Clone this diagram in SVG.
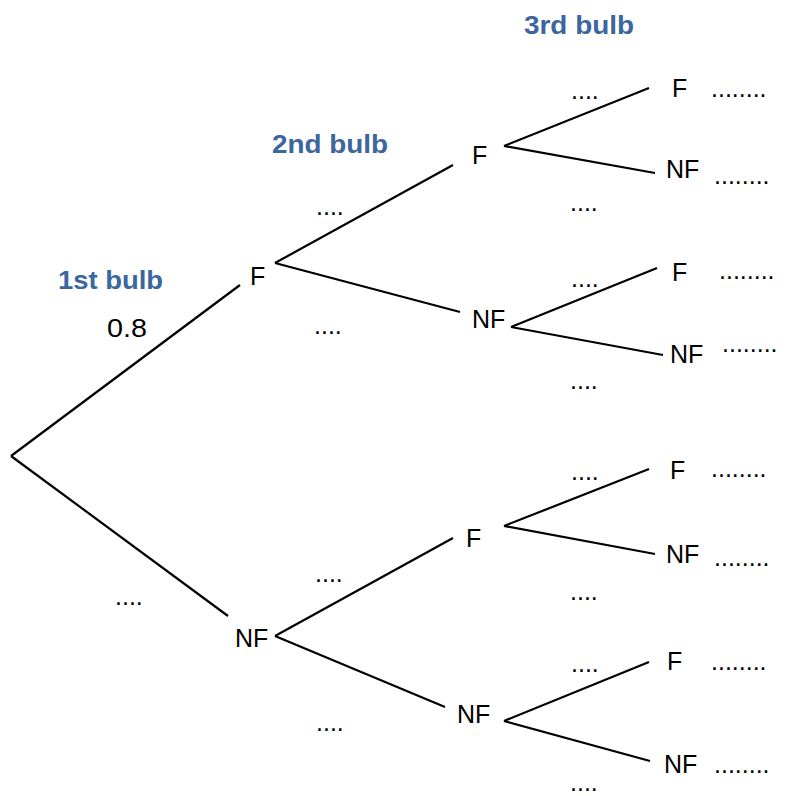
<svg xmlns="http://www.w3.org/2000/svg" width="788" height="796" viewBox="0 0 788 796">
<style>
.t{font-family:"Liberation Sans",Arial,sans-serif;font-size:25px;fill:#000}
.h{font-family:"Liberation Sans",Arial,sans-serif;font-size:26px;font-weight:bold;fill:#3b679e}
.c line{stroke:#000;stroke-width:2.2;stroke-linecap:butt}
</style>
<rect width="788" height="796" fill="#fff"/>
<g id="headers">
<text class="h" x="58" y="289" textLength="105" lengthAdjust="spacingAndGlyphs">1st bulb</text>
<text class="h" x="272" y="153" textLength="116" lengthAdjust="spacingAndGlyphs">2nd bulb</text>
<text class="h" x="524" y="34" textLength="110" lengthAdjust="spacingAndGlyphs">3rd bulb</text>
</g>
<g id="connectors" class="c">
<line x1="11" y1="456" x2="240" y2="285"/>
<line x1="11" y1="456" x2="228" y2="616"/>
<line x1="275" y1="263" x2="453" y2="165"/>
<line x1="275" y1="263" x2="460" y2="312"/>
<line x1="275" y1="636" x2="453" y2="538"/>
<line x1="275" y1="636" x2="445" y2="707"/>
<line x1="504" y1="146" x2="649" y2="88"/>
<line x1="504" y1="146" x2="655" y2="173"/>
<line x1="511" y1="327" x2="657" y2="268"/>
<line x1="511" y1="327" x2="663" y2="355"/>
<line x1="504" y1="526" x2="649" y2="469"/>
<line x1="504" y1="526" x2="655" y2="554"/>
<line x1="504" y1="721" x2="649" y2="662"/>
<line x1="504" y1="721" x2="650" y2="761"/>
</g>
<g id="prob-labels">
<text class="t" x="107" y="337" textLength="40" lengthAdjust="spacingAndGlyphs">0.8</text>
<text class="t" x="115" y="605">....</text>
<text class="t" x="316" y="215">....</text>
<text class="t" x="314" y="334">....</text>
<text class="t" x="315" y="582">....</text>
<text class="t" x="316" y="731">....</text>
<text class="t" x="571" y="99">....</text>
<text class="t" x="570" y="211">....</text>
<text class="t" x="571" y="287">....</text>
<text class="t" x="570" y="389">....</text>
<text class="t" x="571" y="480">....</text>
<text class="t" x="570" y="600">....</text>
<text class="t" x="571" y="672">....</text>
<text class="t" x="570" y="791">....</text>
</g>
<g id="n1F"><text class="t" x="250" y="285">F</text></g>
<g id="n1NF"><text class="t" x="235" y="647">NF</text></g>
<g id="n2FF"><text class="t" x="472" y="164">F</text></g>
<g id="n2FNF"><text class="t" x="472" y="328">NF</text></g>
<g id="n2NFF"><text class="t" x="466" y="547">F</text></g>
<g id="n2NFNF"><text class="t" x="457" y="723">NF</text></g>
<g id="n3FFF"><text class="t" x="672" y="97">F</text><text class="t" x="711" y="97">........</text></g>
<g id="n3FFNF"><text class="t" x="666" y="178">NF</text><text class="t" x="714" y="184">........</text></g>
<g id="n3FNFF"><text class="t" x="672" y="281">F</text><text class="t" x="719" y="279">........</text></g>
<g id="n3FNFNF"><text class="t" x="670" y="363">NF</text><text class="t" x="722" y="352">........</text></g>
<g id="n3NFFF"><text class="t" x="670" y="479">F</text><text class="t" x="711" y="477">........</text></g>
<g id="n3NFFNF"><text class="t" x="666" y="563">NF</text><text class="t" x="714" y="566">........</text></g>
<g id="n3NFNFF"><text class="t" x="667" y="670">F</text><text class="t" x="711" y="670">........</text></g>
<g id="n3NFNFNF"><text class="t" x="664" y="773">NF</text><text class="t" x="714" y="773">........</text></g>
</svg>
